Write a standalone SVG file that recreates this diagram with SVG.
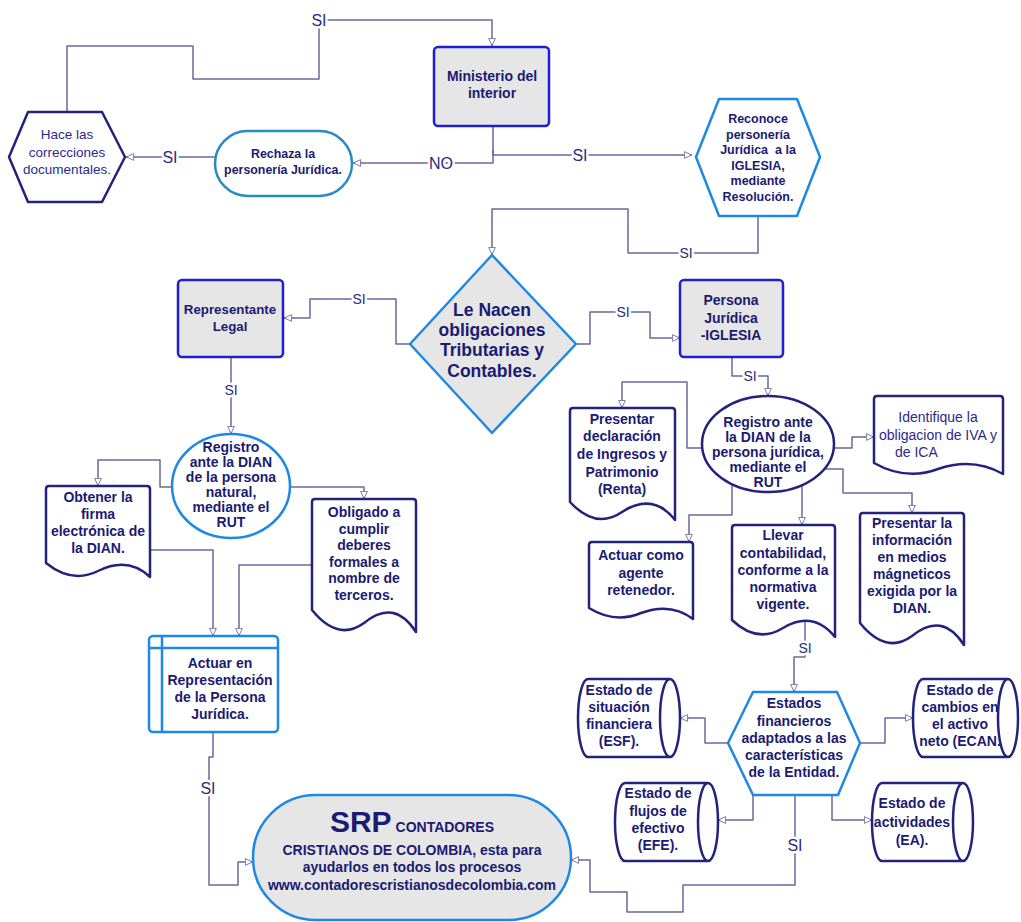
<svg xmlns="http://www.w3.org/2000/svg" width="1021" height="922" viewBox="0 0 1021 922">
<defs>
<marker id="arr" viewBox="0 0 10 10" refX="10" refY="5" markerWidth="9" markerHeight="8" orient="auto" markerUnits="userSpaceOnUse">
<path d="M0.5,0.8 L9.5,5 L0.5,9.2 Z" fill="#ffffff" stroke="#6a6a9c" stroke-width="1.1"/>
</marker>
<style>
.c{fill:none;stroke:#6a6a9c;stroke-width:1.5;stroke-linejoin:round;marker-end:url(#arr)}
.lbl{font-family:"Liberation Sans",Arial,sans-serif;font-size:16px;fill:#2a2a80;text-anchor:middle;paint-order:stroke;stroke:#ffffff;stroke-width:5px;stroke-linejoin:round}
.sl{font-size:14px}
.t{font-family:"Liberation Sans",Arial,sans-serif;font-weight:bold;font-size:14px;fill:#1b1b72;text-anchor:middle}
.n{font-weight:normal;fill:#2a2a8c}
.s135{font-size:13.5px}
.s125{font-size:12.5px}
.s124{font-size:12.4px}
.s133{font-size:13.3px}
.s17{font-size:17.5px}
.gbox{fill:#e6e6e6;stroke:#1f1fcf;stroke-width:2.5}
.lb{fill:#ffffff;stroke:#1e88e5;stroke-width:2.5;stroke-linejoin:round}
.nv{fill:#ffffff;stroke:#23237d;stroke-width:2.5;stroke-linejoin:round}
</style>
</defs>
<rect width="1021" height="922" fill="#ffffff"/>

<g id="connectors">
<path class="c" d="M67,111 V46 H193 V79 H319 V20 H492 V46"/>
<path class="c" d="M493,126 V163 H353"/>
<path class="c" d="M493,150 V155 H692"/>
<path class="c" d="M215,157 H126"/>
<path class="c" d="M758,216 V253 H628 V209 H492 V255"/>
<path class="c" d="M410,344 H396 V299 H310 V318 H284"/>
<path class="c" d="M576,344 H590 V312 H650 V338 H680"/>
<path class="c" d="M231,357 V434"/>
<path class="c" d="M732,357 V376 H768 V396"/>
<path class="c" d="M172,487 H160 V460 H98 V486"/>
<path class="c" d="M290,487 H364 V499"/>
<path class="c" d="M150,550 H213 V636"/>
<path class="c" d="M312,565 H239 V636"/>
<path class="c" d="M213,732 V757 H209 V885 H238 V862 H253"/>
<path class="c" d="M702,448 H687 V382 H622 V408"/>
<path class="c" d="M834,448 H852 V437 H874"/>
<path class="c" d="M824,469 H843 V493 H912 V513"/>
<path class="c" d="M802,485 V525"/>
<path class="c" d="M732,484 V515 H689 V542"/>
<path class="c" d="M805,622 V657 H794 V692"/>
<path class="c" d="M733,743 H705 V718 H680"/>
<path class="c" d="M858,743 H885 V718 H913"/>
<path class="c" d="M753,795 V820 H718"/>
<path class="c" d="M832,795 V820 H872"/>
<path class="c" d="M795,795 V885 H683 V912 H627 V892 H590 V860 H571"/>
<text class="lbl" x="319" y="26">SI</text>
<text class="lbl" x="441" y="169">NO</text>
<text class="lbl" x="580" y="161">SI</text>
<text class="lbl" x="170" y="163">SI</text>
<text class="lbl sl" x="686" y="258">SI</text>
<text class="lbl sl" x="359" y="304">SI</text>
<text class="lbl sl" x="623" y="317">SI</text>
<text class="lbl sl" x="231" y="395">SI</text>
<text class="lbl sl" x="750" y="381">SI</text>
<text class="lbl" x="208" y="794">SI</text>
<text class="lbl sl" x="805" y="653">SI</text>
<text class="lbl" x="795" y="851">SI</text>
</g>

<g id="ministerio">
<rect class="gbox" x="434" y="47" width="115" height="79" rx="4"/>
<text class="t" x="492" y="81">Ministerio del</text>
<text class="t" x="492" y="98">interior</text>
</g>

<g id="hace-correcciones">
<polygon class="nv" points="9,157 28,112 102,112 125,157 102,202 28,202"/>
<text class="t n s135" x="67" y="139">Hace las</text>
<text class="t n s135" x="67" y="157">correcciones</text>
<text class="t n s135" x="67" y="174">documentales.</text>
</g>

<g id="rechaza">
<rect x="215" y="131" width="137" height="65" rx="32.5" fill="#ffffff" stroke="#2a8ac8" stroke-width="2.5"/>
<text class="t s124" x="283" y="158">Rechaza la</text>
<text class="t s124" x="283" y="174">personería Jurídica.</text>
</g>

<g id="reconoce">
<polygon class="lb" points="696,157 719,99 797,99 820,157 797,216 719,216"/>
<text class="t s125" x="758" y="123">Reconoce</text>
<text class="t s125" x="758" y="139">personería</text>
<text class="t s125" x="758" y="154">Jurídica&#160; a la</text>
<text class="t s125" x="758" y="170">IGLESIA,</text>
<text class="t s125" x="758" y="185">mediante</text>
<text class="t s125" x="758" y="201">Resolución.</text>
</g>

<g id="obligaciones">
<polygon points="492,255 576,344 492,433 410,344" fill="#e6e6e6" stroke="#1e88e5" stroke-width="2.5" stroke-linejoin="round"/>
<text class="t s17" x="492" y="316">Le Nacen</text>
<text class="t s17" x="492" y="336">obligaciones</text>
<text class="t s17" x="492" y="356">Tributarias y</text>
<text class="t s17" x="492" y="377">Contables.</text>
</g>

<g id="representante">
<rect class="gbox" x="178" y="280" width="105" height="77" rx="4"/>
<text class="t s133" x="230" y="314">Representante</text>
<text class="t s133" x="230" y="331">Legal</text>
</g>

<g id="persona-juridica">
<rect class="gbox" x="680" y="280" width="103" height="77" rx="4"/>
<text class="t" x="731" y="305">Persona</text>
<text class="t" x="731" y="323">Jurídica</text>
<text class="t" x="731" y="340">-IGLESIA</text>
</g>

<g id="registro-natural">
<ellipse class="lb" cx="231" cy="486" rx="59" ry="52"/>
<text class="t" x="231" y="452">Registro</text>
<text class="t" x="231" y="467">ante la DIAN</text>
<text class="t" x="231" y="482">de la persona</text>
<text class="t" x="231" y="497">natural,</text>
<text class="t" x="231" y="512">mediante el</text>
<text class="t" x="231" y="527">RUT</text>
</g>

<g id="obtener-firma">
<path class="nv" d="M46,563 V489 Q46,486 49,486 H147 Q150,486 150,489 V577 Q128,556 98,571 Q72,584 46,563 Z"/>
<text class="t" x="98" y="502">Obtener la</text>
<text class="t" x="98" y="519">firma</text>
<text class="t" x="98" y="536">electrónica de</text>
<text class="t" x="98" y="553">la DIAN.</text>
</g>

<g id="obligado">
<path class="nv" d="M312,610 V502 Q312,499 315,499 H413 Q416,499 416,502 V632 Q394,598 364,623 Q338,642 312,610 Z"/>
<text class="t" x="364" y="517">Obligado a</text>
<text class="t" x="364" y="534">cumplir</text>
<text class="t" x="364" y="550">deberes</text>
<text class="t" x="364" y="567">formales a</text>
<text class="t" x="364" y="583">nombre de</text>
<text class="t" x="364" y="600">terceros.</text>
</g>

<g id="actuar-representacion">
<rect class="lb" x="149" y="636" width="129" height="96" rx="4"/>
<path d="M149,648 H278 M162,636 V732" fill="none" stroke="#1e88e5" stroke-width="2.5"/>
<text class="t" x="220" y="668">Actuar en</text>
<text class="t" x="220" y="685">Representación</text>
<text class="t" x="220" y="702">de la Persona</text>
<text class="t" x="220" y="719">Jurídica.</text>
</g>

<g id="registro-juridica">
<ellipse class="nv" cx="768" cy="444" rx="66" ry="48"/>
<text class="t" x="768" y="427">Registro ante</text>
<text class="t" x="768" y="442">la DIAN de la</text>
<text class="t" x="768" y="457">persona jurídica,</text>
<text class="t" x="768" y="472">mediante el</text>
<text class="t" x="768" y="487">RUT</text>
</g>

<g id="presentar-declaracion">
<path class="nv" d="M570,502 V411 Q570,408 573,408 H672 Q675,408 675,411 V520 Q653,492 622,512 Q596,530 570,502 Z"/>
<text class="t" x="622" y="424">Presentar</text>
<text class="t" x="622" y="441">declaración</text>
<text class="t" x="622" y="459">de Ingresos y</text>
<text class="t" x="622" y="477">Patrimonio</text>
<text class="t" x="622" y="494">(Renta)</text>
</g>

<g id="identifique">
<path class="nv" d="M874,463 V399 Q874,396 877,396 H1000 Q1003,396 1003,399 V474 Q973,457 938,469 Q906,481 874,463 Z"/>
<text class="t n" x="938" y="422">Identifique la</text>
<text class="t n" x="938" y="440">obligacion de IVA y</text>
<text class="t n" x="895" y="457" style="text-anchor:start">de ICA</text>
</g>

<g id="actuar-retenedor">
<path class="nv" d="M589,608 V545 Q589,542 592,542 H690 Q693,542 693,545 V619 Q671,602 641,613 Q615,624 589,608 Z"/>
<text class="t" x="641" y="560">Actuar como</text>
<text class="t" x="641" y="578">agente</text>
<text class="t" x="641" y="595">retenedor.</text>
</g>

<g id="llevar-contabilidad">
<path class="nv" d="M732,620 V528 Q732,525 735,525 H832 Q835,525 835,528 V637 Q813,610 783,628 Q757,644 732,620 Z"/>
<text class="t" x="783" y="540">Llevar</text>
<text class="t" x="783" y="558">contabilidad,</text>
<text class="t" x="783" y="575">conforme a la</text>
<text class="t" x="783" y="592">normativa</text>
<text class="t" x="783" y="609">vigente.</text>
</g>

<g id="presentar-informacion">
<path class="nv" d="M860,623 V516 Q860,513 863,513 H961 Q964,513 964,516 V645 Q942,611 912,636 Q886,655 860,623 Z"/>
<text class="t" x="912" y="528">Presentar la</text>
<text class="t" x="912" y="545">información</text>
<text class="t" x="912" y="562">en medios</text>
<text class="t" x="912" y="579">mágneticos</text>
<text class="t" x="912" y="596">exigida por la</text>
<text class="t" x="912" y="613">DIAN.</text>
</g>

<g id="estados-financieros">
<polygon class="lb" points="728,743 753,692 837,692 860,743 838,795 753,795"/>
<text class="t" x="794" y="708">Estados</text>
<text class="t" x="794" y="726">financieros</text>
<text class="t" x="794" y="743">adaptados a las</text>
<text class="t" x="794" y="760">características</text>
<text class="t" x="794" y="777">de la Entidad.</text>
</g>

<g id="esf">
<path class="nv" d="M588,679 H670 A10,39 0 0 1 670,757 H588 A10,39 0 0 1 588,679 Z M670,679 A10,39 0 0 0 670,757"/>
<text class="t" x="619" y="695">Estado de</text>
<text class="t" x="619" y="712">situación</text>
<text class="t" x="619" y="729">financiera</text>
<text class="t" x="619" y="746">(ESF).</text>
</g>

<g id="ecan">
<path class="nv" d="M923,679 H1008 A10,39 0 0 1 1008,757 H923 A10,39 0 0 1 923,679 Z M1008,679 A10,39 0 0 0 1008,757"/>
<text class="t" x="960" y="695">Estado de</text>
<text class="t" x="960" y="712">cambios en</text>
<text class="t" x="960" y="729">el activo</text>
<text class="t" x="960" y="746">neto (ECAN.</text>
</g>

<g id="efe">
<path class="nv" d="M625,783 H708 A10,39 0 0 1 708,861 H625 A10,39 0 0 1 625,783 Z M708,783 A10,39 0 0 0 708,861"/>
<text class="t" x="658" y="798">Estado de</text>
<text class="t" x="658" y="816">flujos de</text>
<text class="t" x="658" y="833">efectivo</text>
<text class="t" x="658" y="850">(EFE).</text>
</g>

<g id="ea">
<path class="nv" d="M882,783 H963 A10,39 0 0 1 963,861 H882 A10,39 0 0 1 882,783 Z M963,783 A10,39 0 0 0 963,861"/>
<text class="t" x="912" y="808">Estado de</text>
<text class="t" x="912" y="827">actividades</text>
<text class="t" x="912" y="845">(EA).</text>
</g>

<g id="srp">
<rect x="253" y="795" width="318" height="125" rx="62.5" fill="#e6e6e6" stroke="#1e88e5" stroke-width="2.5"/>
<text class="t" x="412" y="832"><tspan style="font-size:30px">SRP</tspan> <tspan style="font-size:14px">CONTADORES</tspan></text>
<text class="t" x="412" y="855">CRISTIANOS DE COLOMBIA, esta para</text>
<text class="t" x="412" y="872">ayudarlos en todos los procesos</text>
<text class="t" x="412" y="890">www.contadorescristianosdecolombia.com</text>
</g>
</svg>
